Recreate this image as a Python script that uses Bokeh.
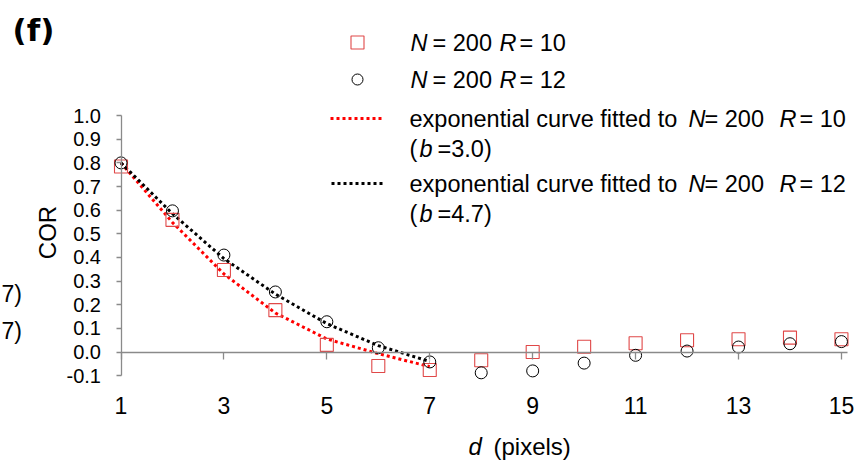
from bokeh.plotting import figure
from bokeh.models import LinearAxis, FixedTicker, Range1d
from bokeh.core.properties import value
from bokeh.embed import file_html
from bokeh.resources import INLINE

# ---------------- data ----------------
d = list(range(1, 16))
cor_r10 = [0.785, 0.559, 0.347, 0.177, 0.030, -0.059, -0.076, -0.035, 0.000,
           0.022, 0.037, 0.050, 0.054, 0.061, 0.054]
cor_r12 = [0.800, 0.597, 0.410, 0.254, 0.128, 0.018, -0.042, -0.088, -0.080,
           -0.047, -0.014, 0.004, 0.021, 0.035, 0.044]
fit_d = [1, 2, 3, 4, 5, 6, 7]
fit_r10 = [0.800, 0.548, 0.330, 0.165, 0.055, -0.007, -0.062]
fit_r12 = [0.800, 0.585, 0.395, 0.245, 0.120, 0.027, -0.040]
x_ticks = [1, 3, 5, 7, 9, 11, 13, 15]
y_ticks = [-0.1, 0.0, 0.1, 0.2, 0.3, 0.4, 0.5, 0.6, 0.7, 0.8, 0.9, 1.0]
y_tick_labels = ["-0.1", "0.0", "0.1", "0.2", "0.3", "0.4", "0.5", "0.6",
                 "0.7", "0.8", "0.9", "1.0"]

# ---------------- layout helpers (picture px -> data) ----------------
W, H = 858, 460
X1_PX, XU = 120.5, 51.46   # px of d = 1, px per unit of d
Y0_PX, YU = 351.5, 236.4   # px of COR = 0, px per unit of COR


def sx(px):
    return 1 + (px - X1_PX) / XU


def sy(py):
    return (Y0_PX - py) / YU


FONT = value("Liberation Sans")
RED_MK = "#e04848"
AXIS_C = "#8a8a8a"
LEG = "23.5px"

p = figure(width=W, height=H, output_backend="svg", toolbar_location=None,
           x_range=Range1d(sx(0), sx(W)), y_range=Range1d(sy(H), sy(0)),
           x_axis_location=None, y_axis_location=None, min_border=0)
p.outline_line_color = None
p.grid.visible = False
p.background_fill_color = "white"
p.border_fill_color = "white"

# y axis at d = 1
ya = LinearAxis(fixed_location=1, bounds=(-0.1, 1.0),
                ticker=FixedTicker(ticks=y_ticks),
                major_label_overrides={t: s for t, s in zip(y_ticks, y_tick_labels)})
ya.axis_line_color = AXIS_C
ya.axis_line_width = 1.3
ya.major_tick_line_color = AXIS_C
ya.major_tick_line_width = 1.3
ya.major_tick_out = 5
ya.major_tick_in = 0
ya.minor_tick_line_color = None
ya.major_label_text_font = "Liberation Sans"
ya.major_label_text_font_size = "20px"
ya.major_label_text_color = "black"
ya.major_label_standoff = 15
p.add_layout(ya, "left")

# x axis at COR = 0
xa = LinearAxis(fixed_location=0, bounds=(1, 15.12),
                ticker=FixedTicker(ticks=x_ticks))
xa.axis_line_color = AXIS_C
xa.axis_line_width = 1.3
xa.major_tick_line_color = AXIS_C
xa.major_tick_line_width = 1.3
xa.major_tick_out = 7
xa.major_tick_in = 0
xa.minor_tick_line_color = None
xa.major_label_text_font = "Liberation Sans"
xa.major_label_text_font_size = "23px"
xa.major_label_text_color = "black"
xa.major_label_standoff = 38
p.add_layout(xa, "below")

# fitted curves
p.line(fit_d, fit_r10, line_color="#ff0000", line_width=3, line_dash="3 3")
p.line(fit_d, fit_r12, line_color="black", line_width=3, line_dash="3 3")

# data markers
p.scatter(d, cor_r10, marker="square", size=13, fill_color=None,
          line_color=RED_MK, line_width=1.1)
p.scatter(d, cor_r12, marker="circle", size=12, fill_color=None,
          line_color="black", line_width=1.0)


def txt(px, py, s, size=LEG, style="normal", align="left", angle=0.0,
        font=FONT):
    p.text(x=[sx(px)], y=[sy(py)], text=[s], text_font=font,
           text_font_size=value(size), text_font_style=style,
           text_align=align, text_baseline="middle", angle=angle,
           text_color="black")


# panel tag and fragments of the neighbouring panel
txt(12, 29, "(f)", size="31px", style="bold", font=value("DejaVu Sans"))
txt(1, 293, "7)", size="23px")
txt(1, 330, "7)", size="23px")

# axis titles
txt(47, 232, "COR", size="24px", align="center", angle=1.5708)
txt(468, 446, "d", size="24px", style="italic")
txt(493, 446, "(pixels)", size="24px")

# legend
p.scatter([sx(357)], [sy(42)], marker="square", size=13, fill_color=None,
          line_color=RED_MK, line_width=1.1)
p.scatter([sx(357)], [sy(79)], marker="circle", size=11, fill_color=None,
          line_color="black", line_width=1.0)
p.line([sx(330), sx(383)], [sy(118), sy(118)], line_color="#ff0000",
       line_width=3, line_dash="3 3")
p.line([sx(331), sx(383)], [sy(183), sy(183)], line_color="black",
       line_width=3, line_dash="3 3")

for yy, rv in ((42, "10"), (79, "12")):
    txt(410, yy, "N", style="italic")
    txt(432, yy, "= 200")
    txt(499, yy, "R", style="italic")
    txt(519, yy, "= " + rv)

for yy, yb, rv, bv in ((118, 148, "10", "3.0"), (183, 213, "12", "4.7")):
    txt(409, yy, "exponential curve fitted to")
    txt(688, yy, "N", style="italic")
    txt(704, yy, "= 200")
    txt(779, yy, "R", style="italic")
    txt(799, yy, "= " + rv)
    txt(409, yb, "(")
    txt(419, yb, "b", style="italic")
    txt(437, yb, "=" + bv + ")")

open("out.html", "w").write(file_html(p, INLINE))
